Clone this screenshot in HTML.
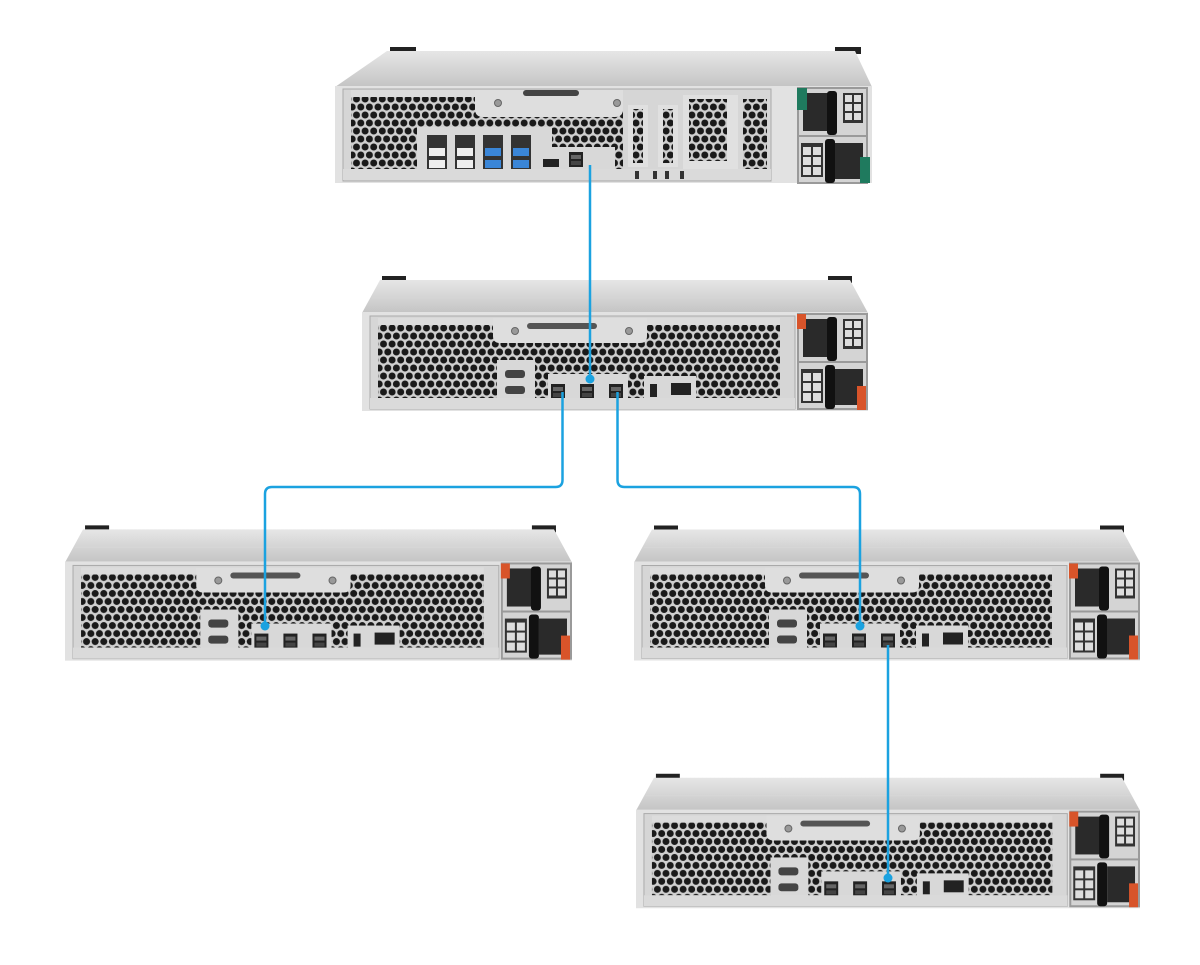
<!DOCTYPE html>
<html><head><meta charset="utf-8"><style>
html,body{margin:0;padding:0;background:#fff;}
svg{display:block;}
text{font-family:"Liberation Sans",sans-serif;}
</style></head><body>
<svg width="1200" height="965" viewBox="0 0 1200 965" xmlns="http://www.w3.org/2000/svg">
<defs>
<pattern id="hex" patternUnits="userSpaceOnUse" width="8.6" height="16">
<rect width="8.6" height="16" fill="#cfcfcf"/>
<circle cx="4.3" cy="4" r="3.5" fill="#1a1a1a"/>
<circle cx="0" cy="12" r="3.5" fill="#1a1a1a"/>
<circle cx="8.6" cy="12" r="3.5" fill="#1a1a1a"/>
</pattern>
<linearGradient id="topg" x1="0" y1="0" x2="0" y2="1">
<stop offset="0" stop-color="#e6e6e6"/><stop offset="1" stop-color="#c4c4c4"/>
</linearGradient>
<g id="port">
<rect x="0" y="0" width="14" height="15" fill="#222"/>
<rect x="2" y="3" width="10" height="4" fill="#666"/>
<rect x="2" y="9" width="10" height="4" fill="#444"/>
</g>
<g id="psu">
<rect x="0" y="0" width="71" height="97" fill="#9a9a9a"/>
<rect x="2" y="2" width="67" height="46" fill="#d4d4d4"/>
<rect x="2" y="50" width="67" height="45" fill="#d4d4d4"/>
<rect x="6" y="6" width="30" height="38" fill="#2a2a2a"/>
<rect x="30" y="4" width="10" height="44" rx="3" fill="#111"/>
<rect x="46" y="6" width="20" height="30" fill="#333"/>
<rect x="48" y="8" width="7" height="7" fill="#ddd"/><rect x="57" y="8" width="7" height="7" fill="#ddd"/>
<rect x="48" y="17" width="7" height="7" fill="#ddd"/><rect x="57" y="17" width="7" height="7" fill="#ddd"/>
<rect x="48" y="26" width="7" height="7" fill="#ddd"/><rect x="57" y="26" width="7" height="7" fill="#ddd"/>
<rect x="4" y="56" width="22" height="34" fill="#333"/>
<rect x="6" y="60" width="8" height="8" fill="#ddd"/><rect x="16" y="60" width="8" height="8" fill="#ddd"/>
<rect x="6" y="70" width="8" height="8" fill="#ddd"/><rect x="16" y="70" width="8" height="8" fill="#ddd"/>
<rect x="6" y="80" width="8" height="8" fill="#ddd"/><rect x="16" y="80" width="8" height="8" fill="#ddd"/>
<rect x="28" y="52" width="10" height="44" rx="3" fill="#111"/>
<rect x="38" y="56" width="28" height="36" fill="#2a2a2a"/>
</g>
<symbol id="exp" viewBox="0 0 506 136">
<rect x="20" y="0" width="24" height="7" fill="#222"/>
<rect x="466" y="0" width="24" height="7" fill="#222"/>
<polygon points="18,4 488,4 506,37 0,37" fill="url(#topg)"/>
<line x1="10" y1="22" x2="496" y2="22" stroke="#d6d6d6" stroke-width="1"/>
<rect x="0" y="36" width="506" height="99" fill="#e2e2e2"/>
<rect x="8" y="40" width="425" height="93" fill="#d6d6d6" stroke="#aaa" stroke-width="1"/>
<rect x="16" y="49" width="402" height="73" fill="url(#hex)"/>
<rect x="16" y="42" width="402" height="7" fill="#dcdcdc"/>
<path d="M131,42 H285 V60 Q285,67 278,67 H138 Q131,67 131,60 Z" fill="#dedede"/>
<rect x="165" y="47" width="70" height="6" rx="3" fill="#555"/>
<circle cx="153" cy="55" r="3.5" fill="#999" stroke="#666"/>
<circle cx="267" cy="55" r="3.5" fill="#999" stroke="#666"/>
<rect x="135" y="84" width="38" height="40" fill="#d8d8d8"/>
<rect x="143" y="94" width="20" height="8" rx="3" fill="#444"/>
<rect x="143" y="110" width="20" height="8" rx="3" fill="#444"/>
<rect x="186" y="98" width="80" height="26" fill="#d8d8d8"/>
<use href="#port" x="189" y="108"/>
<use href="#port" x="218" y="108"/>
<use href="#port" x="247" y="108"/>
<rect x="282" y="100" width="52" height="24" fill="#d8d8d8"/>
<rect x="288" y="108" width="7" height="13" fill="#222"/>
<rect x="309" y="107" width="20" height="12" fill="#222"/>
<rect x="8" y="122" width="425" height="11" fill="#dadada"/>
<use href="#psu" x="435" y="37"/>
<rect x="435" y="38" width="9" height="15" fill="#d8542a"/>
<rect x="495" y="110" width="9" height="24" fill="#d8542a"/>
</symbol>
</defs>

<!-- top NAS -->
<g transform="translate(335,47)">
<rect x="55" y="0" width="26" height="7" fill="#222"/>
<rect x="500" y="0" width="26" height="7" fill="#222"/>
<polygon points="52,4 520,4 537,40 0,40" fill="url(#topg)"/>
<rect x="0" y="39" width="537" height="97" fill="#e2e2e2"/>
<rect x="8" y="42" width="428" height="92" fill="#d6d6d6" stroke="#aaa"/>
<rect x="16" y="50" width="272" height="72" fill="url(#hex)"/>
<rect x="16" y="43" width="272" height="7" fill="#dcdcdc"/>
<path d="M140,43 H288 V62 Q288,70 280,70 H148 Q140,70 140,62 Z" fill="#dedede"/>
<rect x="188" y="43" width="56" height="6" rx="3" fill="#444"/>
<circle cx="163" cy="56" r="3.5" fill="#999" stroke="#666"/>
<circle cx="282" cy="56" r="3.5" fill="#999" stroke="#666"/>
<rect x="82" y="80" width="135" height="50" fill="#d8d8d8"/>
<g fill="#333">
<rect x="92" y="88" width="20" height="36"/><rect x="120" y="88" width="20" height="36"/>
<rect x="148" y="88" width="20" height="36"/><rect x="176" y="88" width="20" height="36"/>
</g>
<g fill="#eee"><rect x="94" y="101" width="16" height="8"/><rect x="94" y="113" width="16" height="8"/>
<rect x="122" y="101" width="16" height="8"/><rect x="122" y="113" width="16" height="8"/></g>
<g fill="#3a86d8"><rect x="150" y="101" width="16" height="8"/><rect x="150" y="113" width="16" height="8"/>
<rect x="178" y="101" width="16" height="8"/><rect x="178" y="113" width="16" height="8"/></g>
<rect x="200" y="100" width="80" height="28" fill="#d8d8d8"/>
<rect x="208" y="112" width="16" height="8" fill="#222"/>
<use href="#port" x="234" y="105"/>
<rect x="293" y="58" width="20" height="62" fill="#e0e0e0"/>
<rect x="298" y="62" width="10" height="54" fill="url(#hex)"/>
<rect x="323" y="58" width="20" height="62" fill="#e0e0e0"/>
<rect x="328" y="62" width="10" height="54" fill="url(#hex)"/>
<rect x="348" y="48" width="55" height="78" fill="#e0e0e0"/>
<rect x="354" y="52" width="38" height="62" fill="url(#hex)"/>
<rect x="408" y="52" width="24" height="70" fill="url(#hex)"/>
<rect x="8" y="122" width="428" height="11" fill="#dadada"/>
<rect x="300" y="124" width="4" height="8" fill="#333"/><rect x="318" y="124" width="4" height="8" fill="#333"/>
<rect x="330" y="124" width="4" height="8" fill="#333"/><rect x="345" y="124" width="4" height="8" fill="#333"/>
<use href="#psu" x="462" y="40"/>
<rect x="462" y="41" width="10" height="22" fill="#1f7a5e"/>
<rect x="525" y="110" width="10" height="26" fill="#1f7a5e"/>
</g>

<use href="#exp" x="362" y="276" width="506" height="136"/>
<use href="#exp" x="65" y="525" width="507" height="137"/>
<use href="#exp" x="634" y="525" width="506" height="137"/>
<use href="#exp" x="636" y="773" width="504" height="137"/>

<g fill="none" stroke="#1ba2e0" stroke-width="2.5">
<path d="M590,165 V380"/>
<path d="M562.5,392 V480 Q562.5,487 555.5,487 H272 Q265,487 265,494 V626"/>
<path d="M617.5,392 V480 Q617.5,487 624.5,487 H853 Q860,487 860,494 V626"/>
<path d="M888,645 V878"/>
</g>
<g fill="#1ba2e0">
<circle cx="590" cy="379" r="4.5"/>
<circle cx="265" cy="626" r="4.5"/>
<circle cx="860" cy="626" r="4.5"/>
<circle cx="888" cy="878" r="4.5"/>
</g>
</svg>
</body></html>
